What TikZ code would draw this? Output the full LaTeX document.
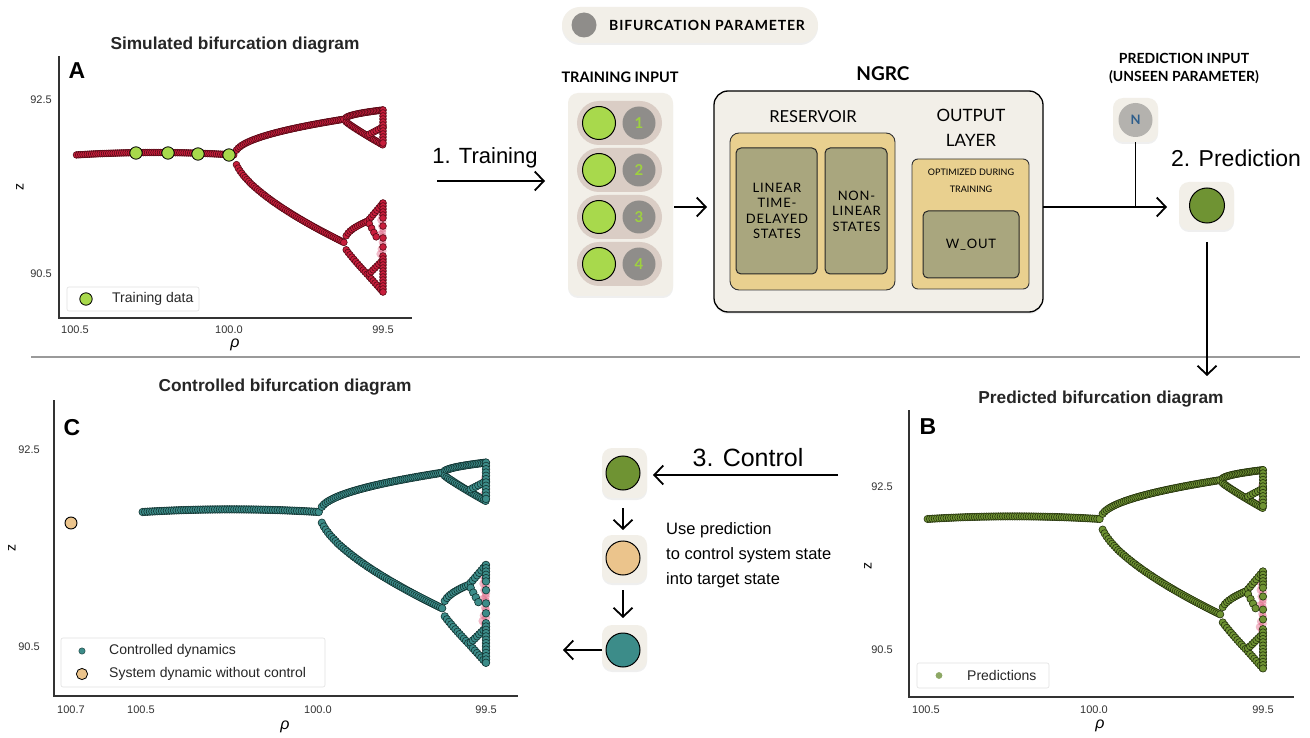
\documentclass[tikz,border=0pt]{standalone}
\usepackage{fontspec}
\setmainfont{Liberation Sans}
\newfontfamily\lato{Lato}
\newfontfamily\latosp[LetterSpace=6]{Lato}
\usetikzlibrary{arrows.meta,calc,shadows}
\definecolor{redF}{HTML}{C81E3C}
\definecolor{redE}{HTML}{560A16}
\definecolor{pinkc}{HTML}{E06A88}
\definecolor{greenT}{HTML}{A8D94C}
\definecolor{oliveF}{HTML}{6F9333}
\definecolor{oliveE}{HTML}{25330D}
\definecolor{oliveL}{HTML}{8DA865}
\definecolor{tealF}{HTML}{3C8C89}
\definecolor{tealE}{HTML}{123331}
\definecolor{tanF}{HTML}{EBC48C}
\definecolor{beige}{HTML}{F2EFE8}
\definecolor{pillc}{HTML}{DACDC5}
\definecolor{grayc}{HTML}{8F8D8A}
\definecolor{grayN}{HTML}{B4B2AE}
\definecolor{gold}{HTML}{E9D08F}
\definecolor{olivebox}{HTML}{A9A67E}
\definecolor{numgreen}{HTML}{9ED13F}
\definecolor{nblue}{HTML}{2E5E8C}
\definecolor{axisc}{HTML}{333333}
\definecolor{sepc}{HTML}{9A9A9A}
\newcommand\fsz[2]{\fontsize{#1}{#2}\selectfont}
\newcommand\bp[2]{\filldraw[bdot] ({\PX+(#1)*\PW},{\PY+(#2)*\PS}) circle;}
\newcommand\pp[2]{\fill[pdot] ({\PX+(#1)*\PW},{\PY+(#2)*\PS}) circle;}
\newcommand\bifcurve{%
  \foreach \r/\d in {1/60,1/68,1/75,1/82,1/90,1/97,0.97/63,0.96/72,0.98/88,0.95/95,0.97/103,0.93/80,0.9/58,1/110,0.96/110,0.98/-30,1/-20,0.96/-15,0.99/56,0.94/66,0.92/100,0.99/78}{\pp{0.877+0.123*\r}{\d}}%
  \foreach \u in {0.005,0.012,...,0.52}{\pgfmathsetmacro\dd{1-37*\u*(0.52-\u)}\bp{\u}{\dd}}%
  \foreach \t in {0.012,0.028,...,1.0}{\pgfmathsetmacro\uu{0.52+0.357*\t}\pgfmathsetmacro\du{-35*sqrt(\t)}\pgfmathsetmacro\dl{6+83*pow(\t,0.65)}\bp{\uu}{\du}\bp{\uu}{\dl}}%
  \foreach \r in {0.03,0.07,...,1.0}{\pgfmathsetmacro\uu{0.877+0.123*\r}\pgfmathsetmacro\da{-35-9*sqrt(\r)}\pgfmathsetmacro\db{-33+24*pow(\r,0.9)}\bp{\uu}{\da}\bp{\uu}{\db}}%
  \foreach \r in {0.64,0.7,...,1.0}{\pgfmathsetmacro\uu{0.877+0.123*\r}\pgfmathsetmacro\dc{-19-8*(\r-0.6)/0.4}\bp{\uu}{\dc}}%
  \foreach \d in {-44,-41,...,-9}{\bp{1}{\d}}%
  \foreach \r in {0.03,0.08,...,0.6}{\pgfmathsetmacro\uu{0.877+0.123*\r}\pgfmathsetmacro\da{86-19*sqrt(\r/0.6)}\pgfmathsetmacro\db{94+27*pow(\r/0.6,0.9)}\bp{\uu}{\da}\bp{\uu}{\db}}%
  \foreach \r in {0.64,0.69,...,1.0}{\pgfmathsetmacro\uu{0.877+0.123*\r}\pgfmathsetmacro\da{67-18*(\r-0.6)/0.4}\pgfmathsetmacro\db{121+17*(\r-0.6)/0.4}\pgfmathsetmacro\dc{121-15*(\r-0.6)/0.4}\bp{\uu}{\da}\bp{\uu}{\db}\bp{\uu}{\dc}}%
  \foreach \r in {0.64,0.7,...,0.85}{\pgfmathsetmacro\uu{0.877+0.123*\r}\pgfmathsetmacro\da{67+18*(\r-0.6)/0.25}\bp{\uu}{\da}}%
  \foreach \d in {49,52,...,64}{\bp{1}{\d}}%
  \foreach \d in {102,105,...,138}{\bp{1}{\d}}%
  \foreach \d in {72,84,93}{\bp{1}{\d}}%
}
\tikzset{
  axis/.style={draw=axisc,line width=1.1pt},
  tick/.style={font=\fsz{11}{13},text=axisc,inner sep=0pt},
  ttl/.style={font=\bfseries\fsz{17.3}{20},text=black!85,inner sep=0pt},
  letter/.style={font=\bfseries\fsz{23}{26},inner sep=0pt},
  legbox/.style={draw=black!12,fill=white,rounded corners=2pt,line width=0.6pt},
  legtxt/.style={font=\fsz{14}{16},text=black!85,anchor=west,inner sep=0pt},
  arr/.style={line width=1.8pt,-{Straight Barb[length=9pt,width=19pt]}},
  plain/.style={line width=1.8pt},
  shad/.style={drop shadow={shadow xshift=0pt,shadow yshift=-2pt,opacity=0.12}},
  softbox/.style={fill=beige,rounded corners=10pt,shad},
  lab/.style={font=\lato\fsz{15}{18},inner sep=0pt},
  boxtxt/.style={font=\latosp\fsz{13}{15.5},align=center,inner sep=0pt},
  bigtxt/.style={font=\fsz{22}{26},inner sep=0pt},
}
\begin{document}
\begin{tikzpicture}[x=1pt,y=-1pt]
\useasboundingbox (0,0) rectangle (1310,738);
\fill[white] (0,0) rectangle (1310,738);
% separator
\coordinate (sepL) at (31,357);
\coordinate (sepR) at (1300,357);
\draw[draw=sepc,line width=1.4pt] (sepL) -- (sepR);

% ================= Panel A =================
\node[ttl] (titleA) at (235,45) {Simulated bifurcation diagram};
\node[letter] (letA) at (77,71) {A};
\draw[axis] (59,56) -- (59,318) -- (412,318);
\node[tick] (ayt1) at (41,100) {92.5};
\node[tick] (ayt2) at (41,274) {90.5};
\node[tick] (axt1) at (75,330) {100.5};
\node[tick] (axt2) at (229,330) {100.0};
\node[tick] (axt3) at (383,330) {99.5};
\node[inner sep=0pt,font=\itshape\fsz{16}{18}] (arho) at (235,345) {ρ};
\node[inner sep=0pt,font=\fsz{14}{16},rotate=90] (az) at (20,187) {z};
\begin{scope}[bdot/.style={fill=redF,draw=redE,line width=0.6pt,radius=3.4},
              pdot/.style={fill=pinkc,opacity=0.45,radius=3.6}]
\def\PX{75}\def\PW{308}\def\PY{154}\def\PS{1}
\bifcurve
\end{scope}
\foreach \x/\y in {136/153,168/153,198/154,229/155}
  \filldraw[fill=greenT,draw=black,line width=0.8pt] (\x,\y) circle[radius=6.2];
\node[legbox,minimum width=132pt,minimum height=24pt] (legA) at (133,299) {};
\filldraw[fill=greenT,draw=black,line width=0.8pt] (86,299) circle[radius=6.2];
\node[legtxt] (legAt) at (112,299) {Training data};

% ================= top flow =================
\node[bigtxt] (ltrain) at (485,158) {1. Training};
\coordinate (t1) at (437,181);
\coordinate (t2) at (545,181);
\draw[arr] (t1) -- (t2);

\node[fill=beige,rounded corners=18pt,minimum width=256pt,minimum height=36pt,shad] (bparam) at (690,25) {};
\fill[grayc] (584,25) circle[radius=12.5];
\node[anchor=west,inner sep=0pt,font=\latosp\bfseries\fsz{14}{16}] (bptext) at (609,25) {BIFURCATION PARAMETER};

\node[lab,font=\lato\bfseries\fsz{14.5}{17}] (tinlab) at (620,77) {TRAINING INPUT};
\node[softbox,minimum width=105pt,minimum height=203pt] (tin) at (620.5,194.5) {};
\foreach \yy/\n in {123/1,170/2,217/3,264/4}{
  \node[fill=pillc,rounded corners=22pt,minimum width=85pt,minimum height=44pt,inner sep=0pt] (pill\n) at (619.5,\yy) {};
  \filldraw[fill=greenT,draw=black,line width=1pt] (599,\yy) circle[radius=16.5];
  \fill[grayc] (639,\yy) circle[radius=16.5];
  \node[inner sep=0pt,text=numgreen,font=\lato\bfseries\fsz{15}{17}] (num\n) at (639,\yy) {\n};
}

\node[lab,font=\lato\bfseries\fsz{19}{22}] (ngrclab) at (883,74) {NGRC};
\node[fill=beige,draw=black,line width=1.3pt,rounded corners=14pt,minimum width=329pt,minimum height=221pt,shad] (ngrc) at (878.5,201.5) {};
\coordinate (a1s) at (674,207);
\coordinate (a1e) at (707,207);
\draw[arr] (a1s) -- (a1e);
\node[lab,font=\lato\fsz{16.5}{20}] (reslab) at (813,117) {RESERVOIR};
\node[fill=gold,draw=black!80,line width=0.9pt,rounded corners=9pt,minimum width=165pt,minimum height=157pt] (res) at (812.5,211.5) {};
\node[fill=olivebox,draw=black!85,line width=1pt,rounded corners=5pt,minimum width=81pt,minimum height=126pt] (linbox) at (776.5,211) {};
\node[boxtxt] (lintxt) at (777,211) {LINEAR\\TIME-\\DELAYED\\STATES};
\node[fill=olivebox,draw=black!85,line width=1pt,rounded corners=5pt,minimum width=62pt,minimum height=126pt] (nlbox) at (856,211) {};
\node[boxtxt] (nltxt) at (856.5,211) {NON-\\LINEAR\\STATES};
\node[lab,font=\lato\fsz{17}{25},align=center] (outlab) at (971,127.5) {OUTPUT\\LAYER};
\node[fill=gold,draw=black!80,line width=0.9pt,rounded corners=6pt,minimum width=117pt,minimum height=130pt] (outbox) at (970.5,224) {};
\node[lab,font=\lato\fsz{9}{17},align=center] (opttxt) at (971,180.5) {OPTIMIZED DURING\\TRAINING};
\node[fill=olivebox,draw=black!85,line width=1pt,rounded corners=5pt,minimum width=96pt,minimum height=67pt] (wout) at (971,244.5) {};
\node[boxtxt,font=\latosp\fsz{13}{16}] (wouttxt) at (971,245) {W\_OUT};

\node[lab,font=\lato\bfseries\fsz{14}{18},align=center] (predinlab) at (1184,68) {PREDICTION INPUT\\(UNSEEN PARAMETER)};
\node[softbox,minimum width=45pt,minimum height=44pt] (nbg) at (1135.5,120) {};
\fill[grayN] (1135.5,120) circle[radius=17];
\node[inner sep=0pt,text=nblue,font=\lato\bfseries\fsz{13}{15}] (ntxt) at (1135.5,120) {N};
\node[bigtxt,font=\fsz{23}{26}] (lpred) at (1236,158) {2. Prediction};
\node[softbox,minimum width=55pt,minimum height=48pt] (pbg) at (1206.5,206) {};
\filldraw[fill=oliveF,draw=black,line width=1pt] (1207,205.5) circle[radius=17.5];
\coordinate (a2s) at (1043,207);
\coordinate (a2e) at (1167,207);
\draw[arr] (a2s) -- (a2e);
\coordinate (nJ) at (1135.5,207);
\draw[plain] (nbg.south) -- (nJ);

% ================= Panel B =================
\node[ttl] (titleB) at (1101,399) {Predicted bifurcation diagram};
\node[letter] (letB) at (928,427) {B};
\draw[axis] (909,410) -- (909,697) -- (1294,697);
\node[tick] (byt1) at (882,487) {92.5};
\node[tick] (byt2) at (882,650) {90.5};
\node[tick] (bxt1) at (926,710) {100.5};
\node[tick] (bxt2) at (1094,710) {100.0};
\node[tick] (bxt3) at (1263,710) {99.5};
\node[inner sep=0pt,font=\itshape\fsz{16}{18}] (brho) at (1100,726) {ρ};
\node[inner sep=0pt,font=\fsz{14}{16},rotate=90] (bz) at (868,566) {z};
\begin{scope}[bdot/.style={fill=oliveF,draw=oliveE,line width=0.6pt,radius=3.7},
              pdot/.style={fill=pinkc,opacity=0.45,radius=4}]
\def\PX{926}\def\PW{337}\def\PY{518}\def\PS{1.09}
\bifcurve
\end{scope}
\node[legbox,minimum width=132pt,minimum height=25pt] (legB) at (983,675.5) {};
\fill[oliveL] (939,675.5) circle[radius=3.4];
\node[legtxt] (legBt) at (967,675.5) {Predictions};

% ================= Control flow =================
\node[softbox,minimum width=45pt,minimum height=50pt] (c1bg) at (624.5,473) {};
\filldraw[fill=oliveF,draw=black,line width=1pt] (623,473) circle[radius=17];
\node[softbox,minimum width=45pt,minimum height=48pt] (c2bg) at (624.5,559) {};
\filldraw[fill=tanF,draw=black,line width=1pt] (623,558) circle[radius=17];
\node[softbox,minimum width=45pt,minimum height=45pt] (c3bg) at (624.5,647.5) {};
\filldraw[fill=tealF,draw=black,line width=1pt] (623,650) circle[radius=17];
\coordinate (cStart) at (838,475);
\coordinate (cTip) at (653,475);
\draw[arr] (cStart) -- (cTip);
\node[bigtxt,font=\fsz{25}{28}] (lctrl) at (748,458) {3. Control};
\coordinate (k1s) at (623,508);
\coordinate (k1e) at (623,530);
\draw[arr] (k1s) -- (k1e);
\coordinate (k2s) at (623,590);
\coordinate (k2e) at (623,618);
\draw[arr] (k2s) -- (k2e);
\coordinate (k3s) at (602,650);
\coordinate (cEnd) at (563,650);
\draw[arr] (k3s) -- (cEnd);
\node[anchor=west,align=left,inner sep=0pt,font=\fsz{16.5}{25}] (ctxt) at (666,555) {Use prediction\\to control system state\\into target state};

% ================= Panel C =================
\node[ttl] (titleC) at (285,387) {Controlled bifurcation diagram};
\node[letter] (letC) at (72,428) {C};
\draw[axis] (54,400) -- (54,696) -- (518,696);
\node[tick] (cyt1) at (29,450) {92.5};
\node[tick] (cyt2) at (29,647) {90.5};
\node[tick] (cxt0) at (71,710) {100.7};
\node[tick] (cxt1) at (141,710) {100.5};
\node[tick] (cxt2) at (318,710) {100.0};
\node[tick] (cxt3) at (486,710) {99.5};
\node[inner sep=0pt,font=\itshape\fsz{16}{18}] (crho) at (285,727) {ρ};
\node[inner sep=0pt,font=\fsz{14}{16},rotate=90] (cz) at (12,548) {z};
\begin{scope}[bdot/.style={fill=tealF,draw=tealE,line width=0.6pt,radius=3.8},
              pdot/.style={fill=pinkc,opacity=0.45,radius=4.2}]
\def\PX{141}\def\PW{345}\def\PY{511}\def\PS{1.1}
\bifcurve
\end{scope}
\filldraw[fill=tanF,draw=black,line width=0.9pt] (71,523) circle[radius=6];
\node[legbox,minimum width=264pt,minimum height=49pt] (legC) at (193,662.5) {};
\filldraw[fill=tealF,draw=tealE,line width=0.4pt] (82,651) circle[radius=3.2];
\node[legtxt] (legCt1) at (109,651) {Controlled dynamics};
\filldraw[fill=tanF,draw=black,line width=0.8pt] (82,674) circle[radius=5.6];
\node[legtxt] (legCt2) at (109,674) {System dynamic without control};

% prediction -> panel B arrow (drawn last)
\coordinate (pS) at (1207,242);
\coordinate (bTop) at (1207,376);
\draw[arr] (pS) -- (bTop);
\end{tikzpicture}
\end{document}
